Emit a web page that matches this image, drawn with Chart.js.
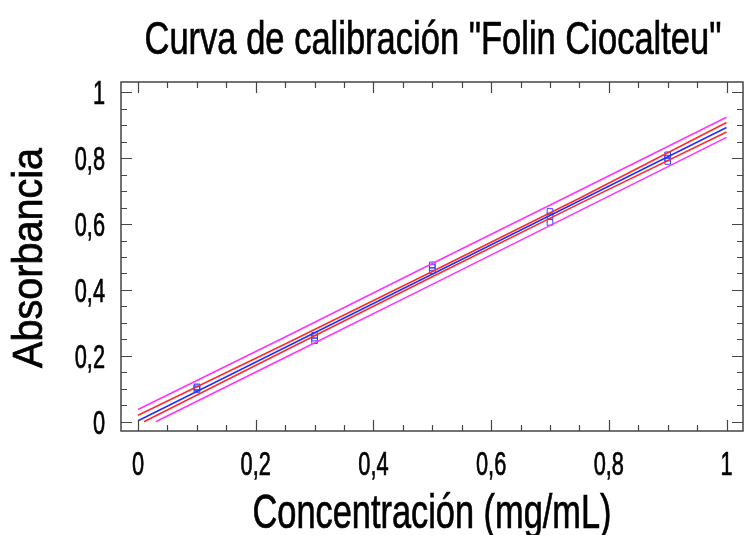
<!DOCTYPE html>
<html lang="es">
<head>
    <meta charset="utf-8">
    <title>Curva de calibración</title>
    <script src="https://cdn.jsdelivr.net/npm/chart.js"></script>
    <style>
        html, body { margin: 0; padding: 0; background: #fff; }
        #wrap { width: 744px; height: 535px; }
    </style>
</head>
<body>
    <div id="wrap"><canvas id="calChart"></canvas></div>
    <script>
        // Puntos medidos (3 réplicas por concentración)
        const concX = [0.1, 0.1, 0.1, 0.3, 0.3, 0.3, 0.5, 0.5, 0.5, 0.7, 0.7, 0.7, 0.9, 0.9, 0.9];
        const absY  = [0.098, 0.103, 0.106, 0.246, 0.254, 0.262, 0.458, 0.468, 0.476, 0.605, 0.624, 0.638, 0.790, 0.800, 0.810];

        // Modelo ajustado
        const fitX = [0, 1];
        const fitY = [0.003, 0.893];

        // Límites de confianza (rojo)
        const confUpX = [0, 0.25, 0.5, 0.75, 1];
        const confUpY = [0.020, 0.236, 0.456, 0.678, 0.908];
        const confLoX = [0.01, 0.25, 0.5, 0.75, 1];
        const confLoY = [0, 0.216, 0.440, 0.662, 0.879];

        // Límites de predicción (magenta)
        const predUpX = [0, 0.25, 0.5, 0.75, 1];
        const predUpY = [0.037, 0.257, 0.480, 0.702, 0.924];
        const predLoX = [0.03, 0.25, 0.5, 0.75, 1];
        const predLoY = [0, 0.195, 0.417, 0.640, 0.863];

        const xTicks = [0, 0.2, 0.4, 0.6, 0.8, 1];
        const yTicks = [0, 0.2, 0.4, 0.6, 0.8, 1];

        const titleText = 'Curva de calibración "Folin Ciocalteu"';
        const xTitle = 'Concentración (mg/mL)';
        const yTitle = 'Absorbancia';

        const FONT = "'Liberation Sans', Arial, sans-serif";

        const pts = (xs, ys) => xs.map((v, i) => ({ x: v, y: ys[i] }));
        const lineSet = (xs, ys, color) => ({
            data: pts(xs, ys),
            showLine: true,
            borderColor: color,
            borderWidth: 1.6,
            pointRadius: 0,
            fill: false
        });
        const fmt = v => String(Math.round(v * 10) / 10).replace('.', ',');

        // texto estrecho (tipo Arial Narrow estirada) escalando en horizontal
        function narrowText(ctx, text, x, y, size, sx, align, rot) {
            ctx.save();
            ctx.font = size + 'px ' + FONT;
            ctx.fillStyle = '#000';
            ctx.strokeStyle = '#000';
            ctx.lineWidth = 0.7;
            ctx.textBaseline = 'alphabetic';
            ctx.translate(x, y);
            if (rot) ctx.rotate(rot);
            ctx.scale(sx, 1);
            ctx.textAlign = align;
            ctx.fillText(text, 0, 0);
            ctx.strokeText(text, 0, 0);
            ctx.restore();
        }
        function fitScale(ctx, text, size, width) {
            ctx.save();
            ctx.font = size + 'px ' + FONT;
            const w = ctx.measureText(text).width;
            ctx.restore();
            return width / w;
        }

        // marco con marcas hacia dentro, etiquetas y títulos
        const frame = {
            id: 'frame',
            afterDraw(chart) {
                const { ctx, chartArea: a, scales: { x, y } } = chart;
                ctx.save();
                ctx.strokeStyle = '#444';
                ctx.lineWidth = 1.5;
                ctx.strokeRect(a.left, a.top, a.right - a.left, a.bottom - a.top);
                ctx.lineWidth = 1.2;
                ctx.beginPath();
                for (let i = 0; i <= 20; i++) {
                    const v = i * 0.05;
                    const len = i % 4 === 0 ? 11 : 6;
                    const px = Math.round(x.getPixelForValue(v)) + 0.5;
                    const py = Math.round(y.getPixelForValue(v)) + 0.5;
                    ctx.moveTo(px, a.bottom); ctx.lineTo(px, a.bottom - len);
                    ctx.moveTo(px, a.top); ctx.lineTo(px, a.top + len);
                    ctx.moveTo(a.left, py); ctx.lineTo(a.left + len, py);
                    ctx.moveTo(a.right, py); ctx.lineTo(a.right - len, py);
                }
                ctx.stroke();
                ctx.restore();

                const tickSize = 33, tickSx = 0.66;
                x.ticks.forEach(t => {
                    narrowText(ctx, fmt(t.value), x.getPixelForValue(t.value), a.bottom + 44, tickSize, tickSx, 'center');
                });
                y.ticks.forEach(t => {
                    narrowText(ctx, fmt(t.value), a.left - 16, y.getPixelForValue(t.value) + 12, tickSize, tickSx, 'right');
                });

                narrowText(ctx, titleText, 433, 54, 46, fitScale(ctx, titleText, 46, 577), 'center');
                narrowText(ctx, xTitle, 432, 528, 48, fitScale(ctx, xTitle, 48, 359), 'center');
                narrowText(ctx, yTitle, 42, 258, 42, fitScale(ctx, yTitle, 42, 220), 'center', -Math.PI / 2);
            }
        };

        new Chart(document.getElementById('calChart'), {
            type: 'scatter',
            data: {
                datasets: [
                    lineSet(predUpX, predUpY, '#ff33ff'),
                    lineSet(predLoX, predLoY, '#ff33ff'),
                    lineSet(confUpX, confUpY, '#ff2a2a'),
                    lineSet(confLoX, confLoY, '#ff2a2a'),
                    lineSet(fitX, fitY, '#2030ff'),
                    {
                        data: pts(concX, absY),
                        pointStyle: 'rect',
                        pointRadius: 4,
                        borderColor: '#3344ff',
                        borderWidth: 1,
                        backgroundColor: 'rgba(0,0,0,0)'
                    }
                ]
            },
            options: {
                responsive: true,
                maintainAspectRatio: false,
                animation: false,
                layout: { autoPadding: false, padding: { left: 0, right: 1, top: 82, bottom: 0 } },
                plugins: {
                    legend: { display: false },
                    tooltip: { enabled: false },
                    title: { display: false }
                },
                scales: {
                    x: {
                        type: 'linear',
                        min: -0.029,
                        max: 1.028,
                        afterFit: s => { s.height = 104; s.paddingLeft = 0; s.paddingRight = 0; },
                        afterBuildTicks: s => { s.ticks = xTicks.map(v => ({ value: v })); },
                        grid: { display: false, drawTicks: false },
                        border: { display: false },
                        ticks: { display: false }
                    },
                    y: {
                        type: 'linear',
                        min: -0.028,
                        max: 1.031,
                        afterFit: s => { s.width = 121; s.paddingTop = 0; s.paddingBottom = 0; },
                        afterBuildTicks: s => { s.ticks = yTicks.map(v => ({ value: v })); },
                        grid: { display: false, drawTicks: false },
                        border: { display: false },
                        ticks: { display: false }
                    }
                }
            },
            plugins: [frame]
        });
    </script>
</body>
</html>
